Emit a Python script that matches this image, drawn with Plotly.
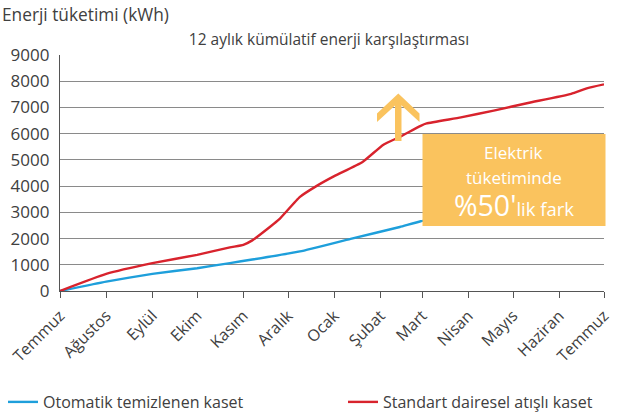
import plotly.graph_objects as go

# Month boundaries (tick positions) and their Turkish labels
month_ticks = ["2012-07-01", "2012-08-01", "2012-09-01", "2012-10-01", "2012-11-01",
               "2012-12-01", "2013-01-01", "2013-02-01", "2013-03-01", "2013-04-01",
               "2013-05-01", "2013-06-01", "2013-07-01"]
month_labels = ["Temmuz", "Ağustos", "Eylül", "Ekim", "Kasım", "Aralık", "Ocak",
                "Şubat", "Mart", "Nisan", "Mayıs", "Haziran", "Temmuz"]

# Cumulative consumption, standard round-flow cassette (kWh)
std_dates = ["2012-07-01", "2012-08-01", "2012-09-01", "2012-10-01", "2012-10-23",
             "2012-11-01", "2012-11-07", "2012-11-19", "2012-11-25", "2012-12-09",
             "2012-12-20", "2013-01-01", "2013-01-20", "2013-02-03", "2013-02-14",
             "2013-02-28", "2013-03-04", "2013-03-27", "2013-04-18", "2013-05-11",
             "2013-06-09", "2013-06-20", "2013-07-01"]
std_values = [0, 650, 1060, 1380, 1665, 1760, 1930, 2450, 2730, 3590, 4000, 4380,
              4920, 5580, 5880, 6300, 6390, 6620, 6880, 7170, 7520, 7740, 7880]

# Cumulative consumption, self-cleaning cassette (kWh)
auto_dates = ["2012-07-01", "2012-08-01", "2012-09-01", "2012-10-01", "2012-10-23",
              "2012-11-07", "2012-12-09", "2013-01-12", "2013-02-14", "2013-02-28",
              "2013-04-01", "2013-05-01", "2013-06-01", "2013-07-01"]
auto_values = [0, 360, 655, 870, 1065, 1200, 1510, 1990, 2440, 2660,
               2950, 3250, 3580, 3900]

W, H = 619, 413
ML, MR, MT, MB = 60, 15, 55, 122
PW, PH = W - ML - MR, H - MT - MB

def px(x):
    return (x - ML) / PW

def py(y):
    return (H - MB - y) / PH

TXT = "#404040"
FONT = "Open Sans"
ORANGE = "#FAC35E"

fig = go.Figure()
fig.add_trace(go.Scatter(x=auto_dates, y=auto_values, mode="lines",
                         name="Otomatik temizlenen kaset", legend="legend", showlegend=True,
                         line=dict(color="#1E9FDB", width=2.4, shape="spline", smoothing=0.4)))
fig.add_trace(go.Scatter(x=std_dates, y=std_values, mode="lines",
                         name="Standart dairesel atışlı kaset", legend="legend2", showlegend=True,
                         line=dict(color="#D8232D", width=2.4, shape="spline", smoothing=0.4)))

shapes = [
    # annotation box
    dict(type="rect", xref="paper", yref="paper", x0=px(422.5), x1=px(605.5),
         y0=py(226), y1=py(134), fillcolor=ORANGE, line=dict(width=0), layer="above"),
    # arrow shaft
    dict(type="rect", xref="paper", yref="paper", x0=px(395), x1=px(401.5),
         y0=py(141), y1=py(99), fillcolor=ORANGE, line=dict(width=0), layer="above"),
]
chevron = [(398.3, 93.5), (419.5, 113.5), (419.5, 122), (398.3, 102.5),
           (377, 122), (377, 113.5)]
path = "M " + " L ".join(f"{px(a):.5f},{py(b):.5f}" for a, b in chevron) + " Z"
shapes.append(dict(type="path", xref="paper", yref="paper", path=path,
                   fillcolor=ORANGE, line=dict(width=0), layer="above"))

annotations = [
    dict(text="Enerji tüketimi (kWh)", xref="paper", yref="paper", x=px(0), y=py(14),
         xanchor="left", yanchor="middle", showarrow=False,
         font=dict(family=FONT, size=17.3, color=TXT)),
    dict(text="Elektrik", xref="paper", yref="paper", x=px(513.5), y=py(152.5),
         xanchor="center", yanchor="middle", showarrow=False,
         font=dict(family=FONT, size=17, color="white")),
    dict(text="tüketiminde", xref="paper", yref="paper", x=px(513.5), y=py(177),
         xanchor="center", yanchor="middle", showarrow=False,
         font=dict(family=FONT, size=17, color="white")),
    dict(text="<span style='font-size:28.5px'>%50'</span>lik fark", xref="paper",
         yref="paper", x=px(513.5), y=py(205), xanchor="center", yanchor="middle",
         showarrow=False, font=dict(family=FONT, size=18.5, color="white")),
]

legend_common = dict(orientation="h", xanchor="left", yanchor="middle", y=py(402),
                     font=dict(family=FONT, size=16, color=TXT),
                     bgcolor="rgba(0,0,0,0)", visible=True)

fig.update_layout(
    width=W, height=H,
    showlegend=True,
    margin=dict(l=ML, r=MR, t=MT, b=MB, autoexpand=False),
    paper_bgcolor="white", plot_bgcolor="white",
    font=dict(family=FONT, size=14, color=TXT),
    title=dict(text="12 aylık kümülatif enerji karşılaştırması", x=px(329), xref="paper",
               y=1 - 40 / H, yanchor="middle", xanchor="center",
               font=dict(family=FONT, size=15.5, color=TXT)),
    xaxis=dict(type="date", range=["2012-07-01", "2013-07-01"],
               tickvals=month_ticks, ticktext=month_labels, tickangle=-45,
               ticks="outside", ticklen=6, tickcolor="#555", tickwidth=1.2,
               ticklabelstandoff=2,
               showgrid=False, showline=True, linecolor="#555", linewidth=1.2,
               zeroline=False, tickfont=dict(family=FONT, size=16, color=TXT)),
    yaxis=dict(range=[0, 9000], tick0=0, dtick=1000, showgrid=True,
               gridcolor="#8a8a8a", gridwidth=1.2, showline=True, linecolor="#555",
               linewidth=1.2, zeroline=False, ticks="", ticklabelstandoff=6,
               tickfont=dict(family=FONT, size=17, color=TXT)),
    legend=dict(x=px(3), **legend_common),
    legend2=dict(x=px(343), **legend_common),
    shapes=shapes,
    annotations=annotations,
)

fig.write_html("out.html")
